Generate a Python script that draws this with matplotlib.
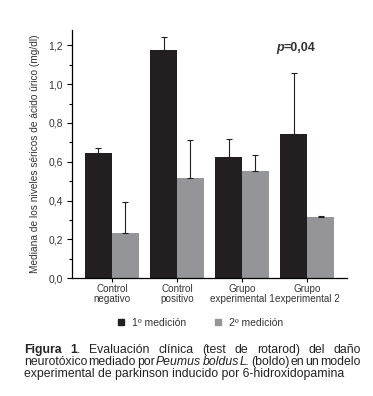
import matplotlib
matplotlib.use('Agg')
import matplotlib.pyplot as plt
import numpy as np
from matplotlib.ticker import MultipleLocator, FuncFormatter
from matplotlib.lines import Line2D

plt.rcParams['font.family'] = ['Liberation Sans', 'DejaVu Sans']

groups = ['Control\nnegativo', 'Control\npositivo', 'Grupo\nexperimental 1', 'Grupo\nexperimental 2']
med1 = [0.645, 1.175, 0.625, 0.743]
med1_top = [0.669, 1.246, 0.718, 1.056]
med2 = [0.234, 0.516, 0.553, 0.315]
med2_top = [0.394, 0.711, 0.633, 0.318]
legend_labels = ['1º medición', '2º medición']

black = '#231f20'
gray = '#939598'
txtc = '#333333'

W, H = 373, 396
fig = plt.figure(figsize=(W / 100, H / 100), dpi=100)
ax = fig.add_axes([72 / W, 1 - 278 / H, 275 / W, 248 / H])

x = np.arange(len(groups))
w = 0.415
err1 = [np.zeros(4), np.array(med1_top) - np.array(med1)]
err2 = [np.zeros(4), np.array(med2_top) - np.array(med2)]
ax.bar(x - w / 2, med1, w, color=black, yerr=err1, capsize=2.5,
       error_kw=dict(elinewidth=0.8, capthick=0.8, ecolor=black))
ax.bar(x + w / 2, med2, w, color=gray, yerr=err2, capsize=2.5,
       error_kw=dict(elinewidth=0.8, capthick=0.8, ecolor=black))

ax.set_xlim(-0.615, 3.615)
ax.set_ylim(0, 1.28)
ax.yaxis.set_major_locator(MultipleLocator(0.2))
ax.yaxis.set_minor_locator(MultipleLocator(0.1))
ax.yaxis.set_major_formatter(FuncFormatter(lambda v, p: f'{v:.1f}'.replace('.', ',')))
ax.set_xticks(x)
ax.set_xticklabels(groups, fontsize=7.1, color=txtc, linespacing=0.95)
ax.tick_params(axis='y', labelsize=7.5, length=3.5, width=0.8, pad=3, labelcolor=txtc)
ax.tick_params(axis='y', which='minor', length=2, width=0.8)
ax.tick_params(axis='x', length=3, width=0.8, pad=1.5)
for s in ['top', 'right']:
    ax.spines[s].set_visible(False)
for s in ['left', 'bottom']:
    ax.spines[s].set_linewidth(0.9)
ax.set_ylabel('Mediana de los niveles séricos de ácido úrico (mg/dl)', fontsize=7.3,
              color=txtc)
ax.yaxis.set_label_coords(-0.115, 0.5)

tp = ax.text(2.52, 1.185, 'p', fontsize=9, fontweight='bold', fontstyle='italic',
             color=txtc, va='center')
ax.annotate('=0,04', xy=(1, 0.5), xycoords=tp, va='center', fontsize=9,
            fontweight='bold', color=txtc)

handles = [Line2D([], [], marker='s', linestyle='none', color=c, markersize=5)
           for c in [black, gray]]
fig.legend(handles, legend_labels, loc='center', bbox_to_anchor=(197 / W, 1 - 323 / H),
           ncol=2, frameon=False, fontsize=7.5, handletextpad=0.1, columnspacing=2.0,
           labelcolor=txtc)

# caption: fit line 3 to its width, justify lines 1 and 2
r = fig.canvas.get_renderer()
line3_text = 'experimental de parkinson inducido por 6-hidroxidopamina'
probe = fig.text(0, 0, line3_text, fontsize=10)
cap_size = 10 * 318 / probe.get_window_extent(r).width
probe.remove()


def place_line(y_px, words, x0=24, x1=361):
    placed = []
    for word in words:
        parts = []
        for txt, kw in word:
            t = fig.text(0, 1 - y_px / H, txt, fontsize=cap_size, va='baseline',
                         color='#222222', **kw)
            parts.append(t)
        ws = [t.get_window_extent(r).width for t in parts]
        placed.append((parts, ws))
    total = sum(sum(ws) for _, ws in placed)
    gap = (x1 - x0 - total) / (len(placed) - 1)
    cx = x0
    for parts, ws in placed:
        for t, wd in zip(parts, ws):
            t.set_x(cx / W)
            cx += wd
        cx += gap


N = {}
B = {'fontweight': 'bold'}
I = {'fontstyle': 'italic'}


def words(s, kw=N):
    return [[(wd, kw)] for wd in s.split()]


line1 = [[('Figura', B)], [('1', B), ('.', N)]] + words('Evaluación clínica (test de rotarod) del daño')
line2 = words('neurotóxico mediado por') + words('Peumus boldus L.', I) + \
    words('(boldo) en un modelo')
place_line(353.3, line1)
place_line(365, line2)
fig.text(24 / W, 1 - 376.7 / H, line3_text, fontsize=cap_size, va='baseline', color='#222222')

fig.savefig('out.png', dpi=100)
